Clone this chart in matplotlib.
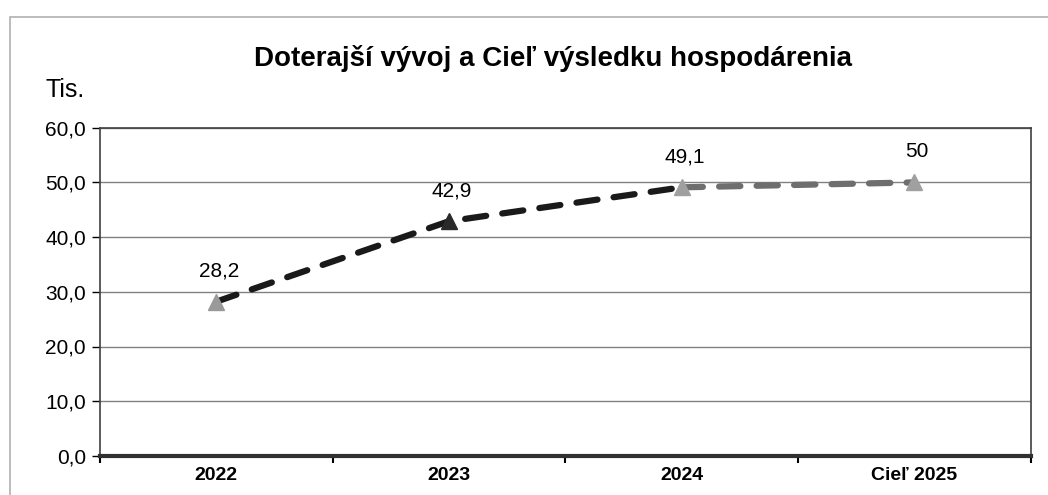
import matplotlib.pyplot as plt
from matplotlib.patches import Rectangle

# --- DATA ---
categories = ["2022", "2023", "2024", "Cieľ 2025"]
values = [28.2, 42.9, 49.1, 50.0]
labels = ["28,2", "42,9", "49,1", "50"]
y_ticks = [0, 10, 20, 30, 40, 50, 60]

plt.rcParams['font.family'] = ['Liberation Sans', 'DejaVu Sans']

fig = plt.figure(figsize=(10.48, 4.95), dpi=100)
ax = fig.add_axes([0.0954, 0.079, 0.888, 0.663])

# outer chart frame (light grey)
fig.patches.append(Rectangle((10 / 1048, -0.05), 1.1, (495 - 17) / 495 + 0.05,
                             transform=fig.transFigure, fill=False,
                             edgecolor='#b0b0b0', linewidth=1.2))

x = list(range(len(categories)))

# actual trend (black dashed) and target (grey dashed)
ax.plot(x[:3], values[:3], color='#1a1a1a', linestyle=(0, (3.4, 2.6)),
        linewidth=4.5, dash_capstyle='round', zorder=3)
ax.plot(x[2:], values[2:], color='#6e6e6e', linestyle=(0, (3.4, 2.6)),
        linewidth=4.5, dash_capstyle='round', zorder=3)

marker_colors = ['#9a9a9a', '#2a2a2a', '#a0a0a0', '#a0a0a0']
for xi, v, c in zip(x, values, marker_colors):
    ax.plot(xi, v, marker='^', markersize=12, color=c, markeredgecolor=c, zorder=4)

for xi, v, lab in zip(x, values, labels):
    ax.annotate(lab, (xi, v), xytext=(2, 22), textcoords='offset points',
                ha='center', va='center', fontsize=15)

ax.set_xlim(-0.5, 3.5)
ax.set_ylim(0, 60)
ax.set_yticks(y_ticks)
ax.set_yticklabels([f"{t:.1f}".replace('.', ',') for t in y_ticks], fontsize=15)
ax.set_xticks(x)
ax.set_xticklabels(categories, fontsize=14, fontweight='bold')
ax.tick_params(axis='x', length=0, pad=8)
ax.set_xticks([-0.5, 0.5, 1.5, 2.5, 3.5], minor=True)
ax.tick_params(axis='x', which='minor', length=5, width=1.5, direction='out')
ax.tick_params(axis='y', length=6, width=1, direction='out', pad=4)

ax.grid(axis='y', color='#808080', linewidth=1)
ax.set_axisbelow(True)
for s in ['left', 'top', 'right']:
    ax.spines[s].set_color('#404040')
    ax.spines[s].set_linewidth(1.2)
ax.spines['bottom'].set_color('#303030')
ax.spines['bottom'].set_linewidth(3)

fig.text(553 / 1048, 1 - 58 / 495, "Doterajší vývoj a Cieľ výsledku hospodárenia",
         ha='center', va='center', fontsize=20, fontweight='bold')
fig.text(65 / 1048, 1 - 90 / 495, "Tis.", ha='center', va='center', fontsize=18)

fig.savefig("out.png", dpi=100)
